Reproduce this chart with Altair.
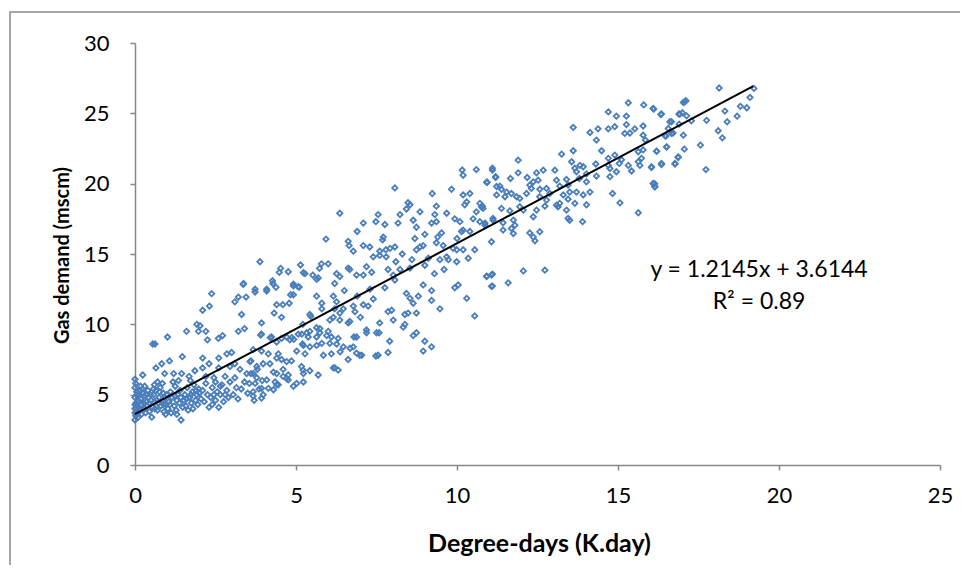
import altair as alt
import pandas as pd

# Degree-days (x) vs gas demand (y), grouped by x band
pts_a = [(0.0,3.2),(0.02,3.5),(0.05,3.8),(0.0,4.0),(0.08,4.2),(0.03,4.4),(0.1,4.6),(0.0,4.8),(0.12,5.0),(0.05,5.2),
         (0.0,5.5),(0.02,5.8),(0.0,6.1),(0.15,3.9),(0.2,4.3),(0.18,4.7),(0.25,5.1),(0.22,5.4),(0.3,4.0),(0.35,4.5),
         (0.28,4.9),(0.4,5.3),(0.45,3.8),(0.38,4.2),(0.5,4.6),(0.48,5.0),(0.24,6.4),(0.12,4.1),(0.07,3.6),(0.33,3.7),
         (0.42,4.8),(0.17,5.6),(0.08,4.5),(0.3,5.6),(0.0,4.3),(0.04,4.1),(0.1,3.4),(0.15,5.3),(0.2,3.6),(0.27,4.4),
         (0.36,5.0),(0.44,4.4),(0.06,5.0),(0.0,3.7),
         (0.52,3.4),(0.55,8.6),(0.62,8.6),(0.65,6.9),(0.55,4.1),(0.6,4.5),(0.58,5.0),(0.65,5.3),(0.7,3.9),(0.72,4.4),
         (0.75,4.8),(0.78,5.5),(0.8,4.2),(0.83,7.2),(0.85,4.6),(0.88,5.1),(0.9,3.8),(0.92,6.5),(0.95,4.3),(0.98,5.0),
         (0.7,5.9),(0.6,5.7),(0.85,5.8),(0.95,3.6),(0.62,4.0),(0.68,4.6),(0.76,5.2),(0.88,4.3),(0.93,4.8),(0.57,5.4)]

pts_b = [(1.01,9.1),(1.07,7.4),(1.02,4.0),(1.05,4.5),(1.1,5.2),(1.12,3.7),(1.15,4.8),(1.2,6.5),(1.22,4.2),(1.25,5.6),
         (1.28,3.9),(1.3,4.6),(1.33,5.0),(1.35,6.0),(1.38,4.4),(1.43,3.2),(1.45,6.5),(1.47,7.7),(1.4,5.3),(1.48,4.1),
         (1.18,5.9),(1.3,3.6),(1.08,4.3),(1.24,4.9),(1.42,4.8),
         (1.6,9.5),(1.52,4.6),(1.55,5.0),(1.58,4.2),(1.62,5.5),(1.65,3.9),(1.7,4.8),(1.72,6.0),(1.75,4.4),(1.78,5.2),
         (1.8,4.0),(1.83,5.7),(1.86,6.7),(1.88,4.6),(1.92,10.0),(1.92,5.0),(1.95,4.3),(1.98,5.4),(2.02,9.9),(1.97,9.5),
         (1.68,6.3),(1.6,4.7),(1.74,5.0),(1.9,5.3)]

pts_c = [(2.1,11.0),(2.1,7.6),(2.1,6.9),(2.25,8.9),(2.31,11.3),(2.38,12.18),(2.2,9.5),(2.3,7.2),(2.3,4.1),(2.05,4.7),
         (2.1,5.3),(2.15,4.5),(2.2,5.8),(2.25,5.0),(2.35,4.8),(2.4,5.5),(2.45,6.2),(2.5,4.6),(2.55,5.2),(2.6,4.1),
         (2.6,6.9),(2.59,9.0),(2.6,7.6),(2.65,5.0),(2.72,9.2),(2.7,5.7),(2.75,4.5),(2.8,6.3),(2.85,7.9),(2.85,5.3),
         (2.9,4.8),(2.95,7.0),(2.95,5.9),(2.0,5.1),(2.5,5.9),(2.2,6.3),(2.4,4.3),(2.45,5.0),(2.65,5.6),(2.8,5.0)]

pts_d = [(3.1,7.2),(3.05,5.0),(3.1,6.2),(3.21,9.5),(3.26,6.8),(3.21,11.94),(3.31,10.7),(3.3,5.4),(3.36,12.84),(3.4,9.7),
         (3.37,12.9),(3.47,6.5),(3.5,5.1),(3.45,11.94),(3.1,11.6),(3.55,5.8),(3.6,6.5),(3.67,8.2),(3.7,4.6),(3.73,12.3),
         (3.73,12.5),(3.8,6.8),(3.85,5.4),(3.88,14.45),(3.93,10.1),(3.9,9.24),(3.93,8.1),(3.95,6.0),(3.2,4.7),(3.6,7.4),
         (3.0,8.0),(3.57,7.35),(3.78,7.0),(3.98,7.2),(3.67,6.5),(3.78,6.2),(3.73,5.8),(3.67,5.2),(3.93,5.45),(3.98,5.0),
         (3.67,4.9),(3.93,4.75),(3.93,9.3),(3.4,5.9),(3.15,5.5)]

pts_e = [(4.09,12.37),(4.09,12.5),(4.14,7.9),(4.19,7.2),(4.24,9.1),(4.28,12.9),(4.27,13.1),(4.32,10.8),(4.3,6.6),(4.38,12.63),
         (4.4,11.4),(4.4,8.74),(4.4,7.6),(4.4,6.5),(4.45,7.9),(4.48,13.7),(4.52,13.98),(4.55,10.5),(4.55,9.0),(4.55,7.5),
         (4.59,11.4),(4.6,6.3),(4.71,9.1),(4.71,7.35),(4.71,6.15),(4.76,6.4),(4.76,6.05),(4.76,13.74),(4.79,11.5),(4.81,8.9),
         (4.83,12.1),(4.86,7.4),(4.92,12.73),(4.92,12.1),(4.92,12.86),(4.92,5.6),(4.93,8.93),(4.14,5.45),(4.3,5.35),(4.09,6.05),
         (4.35,5.9),(4.4,5.7),(4.2,9.05),(4.45,5.7),(4.6,6.8),(4.87,9.05)]

pts_f = [(5.02,8.1),(5.02,5.8),(5.07,9.3),(5.07,12.67),(5.1,12.65),(5.14,14.22),(5.17,7.0),(5.18,9.3),(5.21,10.0),(5.2,8.6),
         (5.23,13.67),(5.23,8.5),(5.23,6.5),(5.23,5.9),(5.28,7.9),(5.22,6.75),(5.28,13.6),(5.33,9.4),(5.38,9.1),(5.43,8.4),
         (5.43,6.7),(5.43,10.7),(5.43,9.5),(5.46,10.57),(5.52,13.5),(5.64,9.1),(5.64,8.5),(5.64,12.0),(5.64,13.2),(5.64,9.76),
         (5.69,6.4),(5.69,13.3),(5.73,13.98),(5.74,9.7),(5.74,9.4),(5.79,14.3),(5.8,8.65),(5.8,11.1),(5.8,11.5),(5.85,7.8),
         (5.93,16.06),(5.95,9.2)]

pts_g = [(6.0,9.5),(6.05,10.3),(6.16,10.5),(6.36,10.3),(6.05,8.65),(6.1,9.1),(6.1,7.9),(6.16,6.9),(6.16,12.0),(6.26,11.6),
         (6.2,11.1),(6.47,11.1),(6.36,10.8),(6.26,8.6),(6.31,9.0),(6.31,6.75),(6.37,8.05),(6.47,8.4),(6.67,10.2),(6.62,10.1),
         (6.78,11.3),(6.83,10.9),(7.09,11.4),(7.24,11.3),(7.76,12.6),(6.26,13.6),(6.36,13.4),(6.62,14.0),(6.67,13.9),(6.88,13.5),
         (7.09,13.5),(7.19,14.1),(7.35,13.7),(7.4,14.8),(7.6,14.9),(7.8,14.8),(8.1,14.45),(7.86,13.9),(8.02,13.5),(8.23,13.9),
         (8.07,13.15),(6.62,15.9),(6.65,15.6),(7.29,15.5),(7.09,15.6),(6.78,15.2),(7.71,16.2),(7.69,16.0),(7.92,15.4),(8.07,15.5),
         (7.79,15.3),(7.6,15.2),(7.55,17.8),(7.48,17.3),(7.76,17.1),(7.09,17.2),(6.9,16.6),(8.17,17.2),(6.36,17.9),(8.07,19.7),
         (6.68,8.3),(6.8,9.1),(7.19,9.4),(7.5,9.4),(6.88,7.95),(7.04,7.8),(6.62,7.5),(7.48,7.75),(6.88,9.1),(7.19,9.6),
         (7.6,10.1),(7.58,9.4),(7.55,7.8),(7.91,8.8),(7.86,8.0),(6.78,8.4),(6.98,7.8),(6.21,6.9),(7.97,11.0),(7.86,10.9),
         (8.02,10.3),(6.0,14.3),(6.2,12.9),(6.5,12.4),(6.9,12.0),(7.3,12.5),(7.0,10.5),(7.4,11.8)]

pts_h = [(8.48,18.65),(8.54,18.5),(8.43,18.2),(8.23,17.8),(8.85,18.0),(9.36,18.4),(9.31,17.8),(8.64,17.4),(8.74,16.9),(9.21,17.2),
         (9.36,17.3),(9.52,16.5),(9.68,17.9),(9.93,17.5),(10.09,17.3),(10.19,16.7),(10.14,16.6),(10.4,16.6),(9.23,19.3),(9.83,19.6),
         (8.69,16.1),(8.74,15.3),(8.85,15.5),(8.95,15.6),(9.36,15.8),(9.57,15.6),(9.88,15.4),(9.99,15.3),(10.19,15.3),(10.55,15.3),
         (9.68,14.8),(9.73,14.6),(9.99,14.45),(10.35,14.7),(9.47,14.6),(9.11,14.7),(8.54,14.0),(9.93,12.6),(10.04,12.8),(10.3,11.85),
         (10.55,10.6),(9.47,11.1),(9.21,12.4),(9.21,11.7),(8.95,12.8),(8.8,12.0),(8.54,11.85),(8.43,12.2),(8.64,11.5),(8.74,10.8),
         (8.48,10.8),(8.38,10.7),(8.38,10.0),(8.33,9.8),(8.64,9.2),(8.74,9.4),(9.0,8.8),(8.95,8.1),(9.21,8.4),(10.16,20.97),
         (10.19,20.6),(10.6,21.0),(10.19,19.2),(10.4,19.3),(10.24,18.5),(10.3,18.7),(10.6,18.0),(10.5,17.5),(8.3,15.0),(8.6,14.6),
         (9.0,14.2),(9.3,13.6),(9.6,13.9),(9.0,16.4),(9.4,16.2),(10.0,16.1)]

pts_i = [(11.1,21.1),(11.2,20.5),(10.92,20.1),(10.71,18.6),(10.79,18.4),(10.87,17.2),(11.12,17.4),(11.23,19.8),(11.07,13.5),(10.92,13.4),
         (11.07,12.7),(11.9,21.67),(11.1,20.96),(10.94,20.1),(11.2,20.44),(11.66,20.37),(11.9,20.77),(12.18,20.44),(12.26,19.9),(12.37,20.13),
         (12.47,20.77),(12.68,20.96),(12.52,20.25),(11.33,19.83),(11.38,19.6),(11.54,19.4),(11.23,19.2),(11.49,19.07),(11.69,19.3),(11.85,19.07),
         (11.95,18.95),(12.16,19.3),(12.31,19.66),(12.57,19.6),(12.78,19.66),(12.57,19.07),(12.78,18.83),(12.88,19.3),(10.76,18.36),(10.81,18.24),
         (11.38,18.24),(11.64,18.07),(11.95,18.36),(12.06,18.12),(12.37,17.65),(12.47,18.12),(12.73,18.4),(10.71,17.3),(10.87,17.05),(11.12,17.53),
         (11.43,17.22),(11.75,17.41),(11.69,16.82),(11.75,16.46),(11.43,16.7),(11.8,17.05),(12.26,16.5),(12.37,16.2),(12.42,15.94),(12.57,16.58),
         (11.07,15.87),(10.92,13.43),(11.1,13.57),(11.1,12.72),(11.59,12.95),(12.06,13.8),(12.73,13.85)]

pts_j = [(13.04,20.96),(13.09,20.25),(13.4,20.3),(13.19,19.83),(13.45,19.9),(13.3,19.2),(13.5,19.4),(13.71,19.4),(13.92,19.2),(14.13,19.4),
         (14.02,20.13),(13.8,20.37),(13.45,18.9),(13.19,18.6),(13.14,18.36),(13.66,18.6),(14.02,18.5),(13.09,18.47),(13.4,18.12),(13.45,17.53),
         (13.5,17.4),(13.9,17.3),(13.25,22.1),(13.61,22.34),(13.56,21.56),(13.66,21.1),(13.71,20.85),(13.82,21.3),(13.92,21.2),(14.02,20.7),
         (14.31,21.4),(14.33,20.54),(14.49,22.34),(14.7,21.8),(14.9,22.03),(15.11,21.7),(14.7,21.3),(14.75,21.08),(14.95,20.85),(14.75,20.5),
         (15.42,20.9),(15.32,21.3),(15.04,21.44),(14.83,19.3),(15.06,18.64),(15.63,17.93),(16.14,20.0),(16.14,19.78),(13.61,24.0),(14.13,23.64),
         (14.38,23.9),(14.7,23.9),(14.9,24.05),(15.26,24.2),(15.52,23.9),(15.78,24.1),(15.21,23.57),(15.37,23.6),(15.78,23.45),(15.85,23.1),
         (14.33,23.1),(15.32,25.75),(15.8,25.6),(16.09,25.35),(16.35,24.95),(16.89,24.95),(14.7,25.1),(14.95,24.8),(15.26,24.8),(16.66,24.4),
         (16.66,23.57),(16.46,23.4),(16.51,22.6),(16.2,22.3),(15.78,22.4),(15.63,22.27),(15.73,21.8),(15.63,21.56),(15.68,21.3),(16.04,21.2),
         (16.35,21.44),(16.77,21.44),(16.87,21.9),(16.11,25.3),(16.33,24.92),(16.61,24.4),(16.56,23.92),(16.71,23.6),(16.9,24.23),(16.49,23.38),
         (17.03,23.45),(17.06,22.45),(16.51,22.62),(16.2,22.31),(16.87,21.86),(16.77,21.39),(16.35,21.36),(16.04,21.15),(16.09,20.01),(16.15,19.78)]

pts_k = [(18.14,26.8),(19.22,26.77),(19.1,26.13),(19.0,25.4),(18.8,25.5),(18.7,24.8),(18.32,25.16),(18.39,24.4),(18.11,23.76),(18.24,23.26),
         (17.75,24.5),(17.56,22.74),(17.73,21.0),(17.08,25.82),(17.11,25.9),(17.03,25.77),(17.0,25.04),(16.92,24.94),(17.13,24.82),(17.28,24.47)]

# Trend line from the printed equation
slope = 1.2145
intercept = 3.6144
trend_x = [0.0, 19.2]
eq_text = ["y = 1.2145x + 3.6144", "R² = 0.89"]
eq_x = [19.38, 19.38]
eq_y = [13.86, 11.62]

all_pts = pts_a + pts_b + pts_c + pts_d + pts_e + pts_f + pts_g + pts_h + pts_i + pts_j + pts_k
df = pd.DataFrame(all_pts, columns=["dd", "gas"])
trend = pd.DataFrame({"dd": trend_x, "gas": [slope * v + intercept for v in trend_x]})
eq = pd.DataFrame({"dd": eq_x, "gas": eq_y, "t": eq_text})

FONT = "Lato"
xs = alt.Scale(domain=[0, 25], nice=False)
ys = alt.Scale(domain=[0, 30], nice=False)

frame = alt.Chart(pd.DataFrame({"a": [0]})).mark_rect(
    fill="white", fillOpacity=0, stroke="#898989", strokeWidth=1.5
).encode(x=alt.value(-125), x2=alt.value(1200), y=alt.value(-31), y2=alt.value(1200))

points = alt.Chart(df).mark_point(
    shape="diamond", filled=False, size=28, strokeWidth=1.8, color="#4A7EBB", opacity=1
).encode(
    x=alt.X("dd:Q", scale=xs,
            axis=alt.Axis(values=[0, 5, 10, 15, 20, 25], title="Degree-days (K.day)",
                          titleX=404, titleY=78, titleBaseline="middle", titleAlign="center",
                          titleFontSize=25, labelPadding=15, labelFlush=False)),
    y=alt.Y("gas:Q", scale=ys,
            axis=alt.Axis(values=[0, 5, 10, 15, 20, 25, 30], title="Gas demand (mscm)",
                          titleX=-73, titleY=212, titleAngle=270, titleBaseline="middle",
                          titleAlign="center", titleFontSize=20, labelPadding=21, labelFlush=False)),
)

line = alt.Chart(trend).mark_line(color="black", strokeWidth=2).encode(
    x=alt.X("dd:Q", scale=xs), y=alt.Y("gas:Q", scale=ys)
)

texts = alt.Chart(eq).mark_text(font=FONT, fontSize=23, color="black", align="center", baseline="middle").encode(
    x=alt.X("dd:Q", scale=xs), y=alt.Y("gas:Q", scale=ys), text="t:N"
)

chart = alt.layer(frame, points, line, texts).properties(
    width=805, height=422,
    autosize=alt.AutoSizeParams(type="none"),
    padding={"left": 127, "top": 35, "right": 20, "bottom": 100},
).configure_view(stroke=None).configure_axis(
    grid=False, domainColor="#868686", domainWidth=1.5, tickColor="#868686", tickWidth=1.5,
    tickSize=5, labelFont=FONT, labelFontSize=22, labelColor="black",
    titleFont=FONT, titleFontWeight="bold", titleColor="black",
)

chart.save("out.html", embed_options={"renderer": "svg", "actions": False})
